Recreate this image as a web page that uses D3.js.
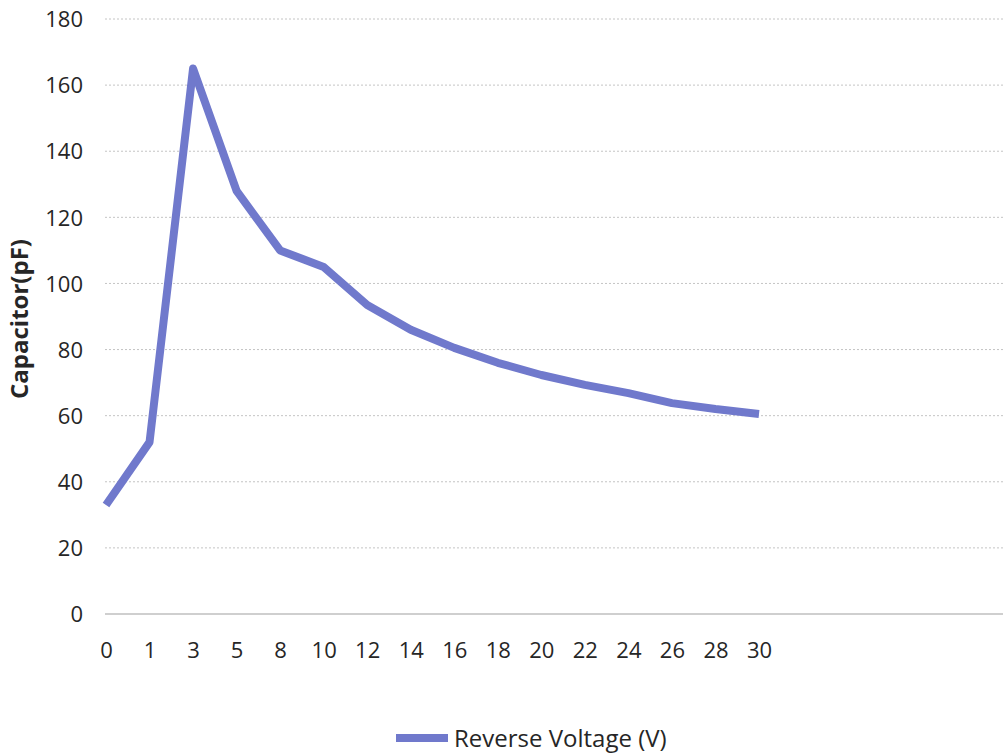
<!DOCTYPE html>
<html>
<head>
<meta charset="utf-8">
<script src="https://cdn.jsdelivr.net/npm/d3@7"></script>
<style>
  body { margin: 0; background: #fff; }
  svg text { font-family: "Open Sans", "Noto Sans", sans-serif; fill: #262626; }
</style>
</head>
<body>
<svg id="chart" width="1003" height="753"></svg>
<script>
// reverse voltage categories (V) and capacitance (pF)
var voltages = ["0", "1", "3", "5", "8", "10", "12", "14", "16", "18", "20", "22", "24", "26", "28", "30"];
var capacitance = [33, 52, 165, 128, 110, 105, 93.5, 86, 80.5, 76, 72.3, 69.3, 66.8, 63.8, 62, 60.5];
var yTicks = [0, 20, 40, 60, 80, 100, 120, 140, 160, 180];
var seriesName = "Reverse Voltage (V)";
var yTitle = "Capacitor(pF)";

var svg = d3.select("#chart");
var plotLeft = 105, plotRight = 1003;

var x = d3.scalePoint()
  .domain(voltages)
  .range([106, 759]);

var y = d3.scaleLinear()
  .domain([0, 180])
  .range([614, 19]);

// gridlines
svg.append("g").selectAll("line")
  .data(yTicks.filter(function(d) { return d > 0; }))
  .enter().append("line")
    .attr("x1", plotLeft)
    .attr("x2", plotRight)
    .attr("y1", function(d) { return y(d); })
    .attr("y2", function(d) { return y(d); })
    .style("stroke", "#c4c4c4")
    .style("stroke-width", 1)
    .style("stroke-dasharray", "2,2");

// base axis line
svg.append("line")
  .attr("x1", plotLeft).attr("x2", plotRight)
  .attr("y1", y(0)).attr("y2", y(0))
  .style("stroke", "#bfbfbf")
  .style("stroke-width", 1.5);

// y tick labels
var yAxis = svg.append("g")
  .attr("transform", "translate(83,0)")
  .call(d3.axisLeft(y).tickValues(yTicks).tickSize(0).tickPadding(0));
yAxis.select(".domain").remove();
yAxis.selectAll("text")
  .style("font-family", "'Open Sans', sans-serif")
  .style("font-size", "22px")
  .style("fill", "#262626")
  .attr("dy", "0.35em");

// x tick labels
var xAxis = svg.append("g")
  .attr("transform", "translate(0," + y(0) + ")")
  .call(d3.axisBottom(x).tickSize(0).tickPadding(28));
xAxis.select(".domain").remove();
xAxis.selectAll("text")
  .style("font-family", "'Open Sans', sans-serif")
  .style("font-size", "22px")
  .style("fill", "#262626");

// y axis title
svg.append("text")
  .attr("transform", "translate(20,319) rotate(-90)")
  .attr("text-anchor", "middle")
  .attr("dy", "0.35em")
  .style("font-size", "24px")
  .style("font-weight", "bold")
  .text(yTitle);

// the curve
var line = d3.line()
  .x(function(d, i) { return x(voltages[i]); })
  .y(function(d) { return y(d); });

svg.append("path")
  .datum(capacitance)
  .attr("d", line)
  .style("fill", "none")
  .style("stroke", "#7079cc")
  .style("stroke-width", 8)
  .style("stroke-linejoin", "round");

// legend
var legend = svg.append("g").attr("transform", "translate(396,738)");
legend.append("line")
  .attr("x1", 0).attr("x2", 52)
  .attr("y1", 0).attr("y2", 0)
  .style("stroke", "#7079cc")
  .style("stroke-width", 8);
legend.append("text")
  .attr("x", 58)
  .attr("y", 1)
  .attr("dy", "0.35em")
  .style("font-size", "24px")
  .text(seriesName);
</script>
</body>
</html>
